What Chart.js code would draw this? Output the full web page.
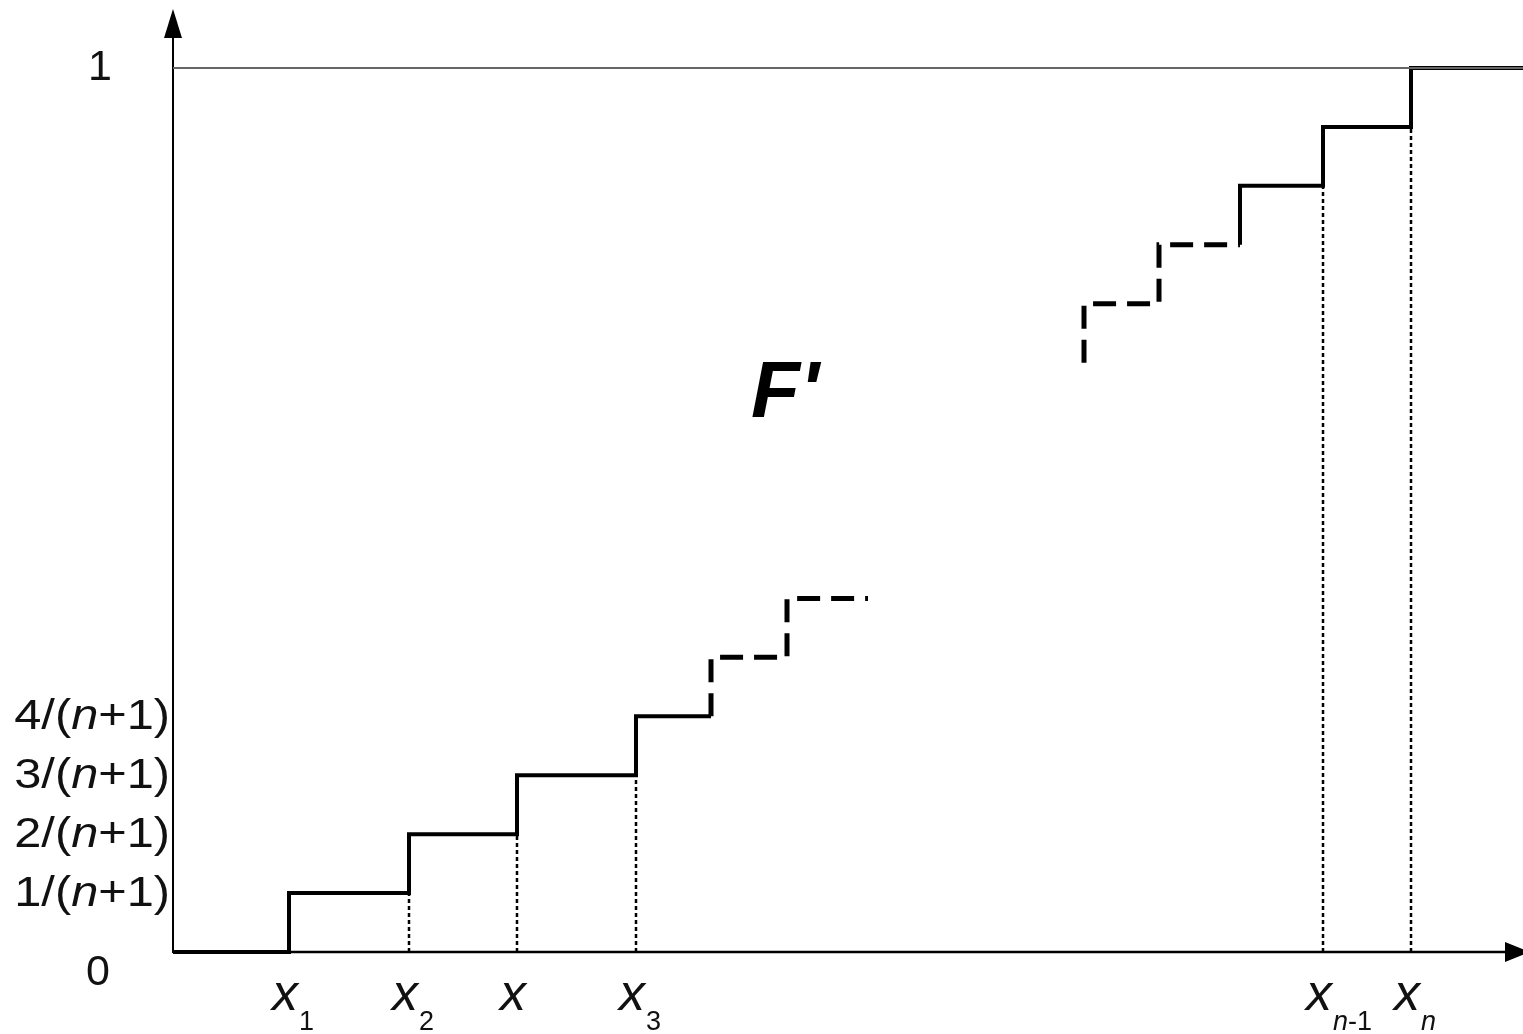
<!DOCTYPE html>
<html>
<head>
<meta charset="utf-8">
<script src="https://cdn.jsdelivr.net/npm/chart.js@4.4.1/dist/chart.umd.min.js"></script>
<style>
  body { margin: 0; background: #fff; }
  #wrap { width: 1523px; height: 1034px; }
</style>
</head>
<body>
<div id="wrap"><canvas id="ecdf-chart"></canvas></div>
<script>
// step heights in units of 1/(n+1), here n = 14 so the top is 15
const solidLowX = [0, 11.6, 23.6, 34.4, 46.3, 53.8];
const solidLowY = [0, 1, 2, 3, 4, 4];
const dashLowX = [53.8, 53.8, 61.4, 69.5];
const dashLowY = [4, 5, 6, 6];
const dashHighX = [91.1, 91.1, 98.6, 106.7];
const dashHighY = [10, 11, 12, 12];
const solidHighX = [106.7, 106.7, 115, 123.8, 135];
const solidHighY = [12, 13, 14, 15, 15];
const dropX = [23.6, 34.4, 46.3, 115, 123.8];
const dropY = [1, 2, 3, 13, 14];
const xTicks = [11.6, 23.6, 34.4, 46.3, 115, 123.8];
const xSubs = ["1", "2", "", "3", "n-1", "n"];
const yTicks = [1, 2, 3, 4];
const yTop = 15;

const FONT = '"Liberation Sans", Arial, sans-serif';

const pts = (xs, ys) => xs.map((x, i) => ({ x: x, y: ys[i] }));

const stepLine = (xs, ys, dash) => ({
    data: pts(xs, ys),
    showLine: true,
    stepped: 'before',
    borderColor: '#000',
    borderWidth: dash ? 5 : 4,
    borderDash: dash ? [23, 11] : [],
    borderJoinStyle: 'miter',
    pointRadius: 0,
    clip: false,
})

const drops = dropX.map((x, i) => ({
    data: pts([x, x], [0, dropY[i]]),
    showLine: true,
    borderColor: '#000',
    borderWidth: 2.5,
    borderDash: [4, 3],
    pointRadius: 0,
    clip: false,
}))

// parts: [text, italic]
const drawParts = (ctx, parts, x, y, size, sx, align) => {
    let widths = parts.map(p => {
        ctx.font = (p[1] ? 'italic ' : '') + size + 'px ' + FONT;
        return ctx.measureText(p[0]).width;
    });
    let total = widths.reduce((a, b) => a + b, 0);
    ctx.save();
    ctx.translate(x, y);
    ctx.scale(sx, 1);
    let cx = align === 'right' ? -total : align === 'center' ? -total / 2 : 0;
    parts.forEach((p, i) => {
        ctx.font = (p[1] ? 'italic ' : '') + size + 'px ' + FONT;
        ctx.fillText(p[0], cx, 0);
        cx += widths[i];
    });
    ctx.restore();
}

const axesPlugin = {
    id: 'axes',
    beforeDatasetsDraw(chart) {
        const ctx = chart.ctx;
        const xs = chart.scales.x, ys = chart.scales.y;
        const x0 = xs.getPixelForValue(0), y0 = ys.getPixelForValue(0);
        ctx.save();
        ctx.strokeStyle = '#000';
        ctx.fillStyle = '#000';
        ctx.lineWidth = 2;
        ctx.beginPath();
        ctx.moveTo(x0, y0 + 1);
        ctx.lineTo(x0, 36);
        ctx.stroke();
        ctx.lineWidth = 2.5;
        ctx.beginPath();
        ctx.moveTo(x0, y0);
        ctx.lineTo(1506, y0);
        ctx.stroke();
        // arrow heads
        ctx.beginPath();
        ctx.moveTo(x0, 9);
        ctx.lineTo(x0 - 9, 38);
        ctx.lineTo(x0 + 9, 38);
        ctx.closePath();
        ctx.fill();
        ctx.beginPath();
        ctx.moveTo(1530, y0);
        ctx.lineTo(1505, y0 - 10);
        ctx.lineTo(1505, y0 + 10);
        ctx.closePath();
        ctx.fill();
        ctx.restore();
    },
    afterDatasetsDraw(chart) {
        const ctx = chart.ctx;
        const xs = chart.scales.x, ys = chart.scales.y;
        ctx.save();
        ctx.fillStyle = '#111';
        ctx.textBaseline = 'middle';
        yTicks.forEach(k => {
            const py = ys.getPixelForValue(k);
            drawParts(ctx, [[k + '/(', false], ['n', true], ['+1)', false]], 170, py + 1, 42, 1.16, 'right');
        });
        ctx.textAlign = 'center';
        ctx.font = '43px ' + FONT;
        ctx.fillText('1', 100, ys.getPixelForValue(yTop));
        ctx.fillText('0', 98, ys.getPixelForValue(0) + 21);

        ctx.textAlign = 'left';
        ctx.textBaseline = 'alphabetic';
        xTicks.forEach((v, i) => {
            const px = xs.getPixelForValue(v);
            ctx.font = 'italic 52px ' + FONT;
            const w = ctx.measureText('x').width;
            ctx.fillText('x', px - w / 2 - 4, 1010);
            const sub = xSubs[i];
            if (sub) {
                const parts = sub.startsWith('n') ? [['n', true], [sub.slice(1), false]] : [[sub, false]];
                drawParts(ctx, parts, px + w / 2 - 3, 1030, 27, 1, 'left');
            }
        });

        // curve label
        ctx.font = 'bold italic 80px ' + FONT;
        ctx.textAlign = 'center';
        ctx.textBaseline = 'middle';
        ctx.fillStyle = '#000';
        ctx.fillText("F'", xs.getPixelForValue(61.2), ys.getPixelForValue(9.45));
        ctx.restore();
    }
}

const ecdfChart = () => {
    const option = {
        type: 'scatter',
        data: {
            datasets: [
                {
                    data: pts([0, 135], [yTop, yTop]),
                    showLine: true,
                    borderColor: '#666',
                    borderWidth: 2,
                    pointRadius: 0,
                },
                ...drops,
                stepLine(solidLowX, solidLowY, false),
                stepLine(dashLowX, dashLowY, true),
                stepLine(dashHighX, dashHighY, true),
                stepLine(solidHighX, solidHighY, false),
            ]
        },
        options: {
            responsive: true,
            maintainAspectRatio: false,
            animation: false,
            layout: { padding: { left: 173, top: 9, right: 0, bottom: 82 } },
            plugins: { legend: { display: false }, tooltip: { enabled: false } },
            scales: {
                x: { type: 'linear', min: 0, max: 135, display: false },
                y: { type: 'linear', min: 0, max: 16, display: false },
            }
        },
        plugins: [axesPlugin]
    }
    const canvas = document.getElementById('ecdf-chart');
    new Chart(canvas, option)
}

ecdfChart();
</script>
</body>
</html>
